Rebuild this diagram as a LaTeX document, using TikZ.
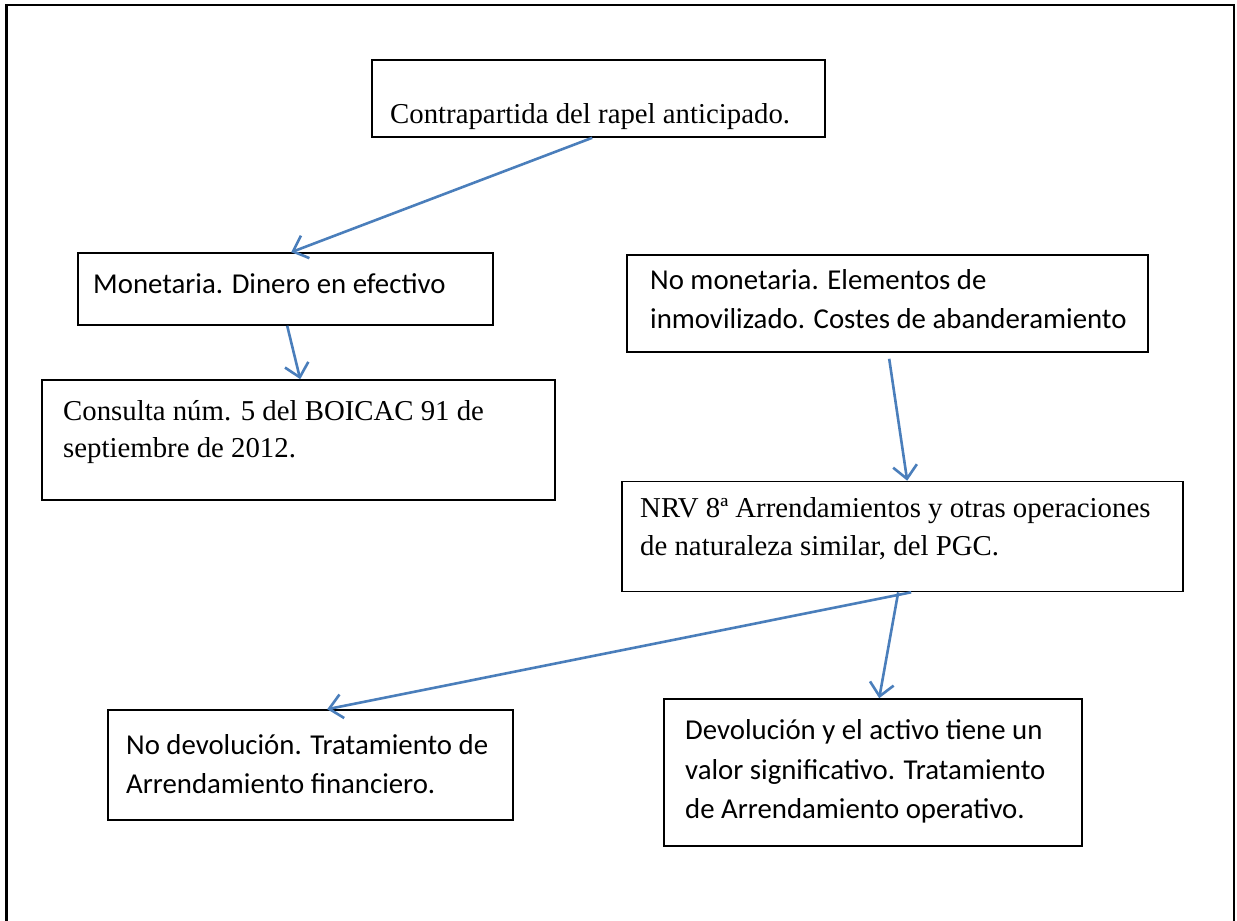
\documentclass[tikz,border=0pt]{standalone}
\usepackage{fontspec}
\setmainfont{Liberation Serif}
\newfontfamily\calfont{Carlito}
\usetikzlibrary{arrows.meta,calc}
\definecolor{arrblue}{RGB}{74,126,187}
\tikzset{
  box/.style={draw=black,line width=1.6pt,inner sep=0pt},
  tms/.style={anchor=base west,inner sep=0pt,font=\fontsize{28.8}{38}\selectfont},
  clb/.style={anchor=base west,inner sep=0pt,font=\calfont\fontsize{28.8}{38}\selectfont},
  conn/.style={draw=arrblue,line width=2.6pt,-{Straight Barb[length=13pt,width=24pt]}}
}
\begin{document}
\begin{tikzpicture}[x=1pt,y=-1pt]
\useasboundingbox (0,0) rectangle (1237,921);
\draw[line width=2.4pt] (6.5,940) -- (6.5,5) -- (1234,5) -- (1234,940);
% boxes
\node[box,minimum width=453pt,minimum height=77pt] (top) at (598.5,98.5) {};
\node[box,minimum width=415pt,minimum height=72pt] (mon) at (285.5,289) {};
\node[box,minimum width=513pt,minimum height=120pt] (cons) at (298.5,440) {};
\node[box,minimum width=521pt,minimum height=97pt] (nomon) at (887.5,303.5) {};
\node[box,minimum width=561pt,minimum height=110pt] (nrv) at (902.5,536.5) {};
\node[box,minimum width=405pt,minimum height=110pt] (nodev) at (310.5,765) {};
\node[box,minimum width=418pt,minimum height=147pt] (dev) at (873,772.5) {};
% texts
\node[tms] (t1) at (390,123) {Contrapartida del rapel anticipado.};
\node[clb] (t2) at (93,293) {Monetaria. Dinero en efectivo};
\node[tms] (t3a) at (63,420) {Consulta núm. 5 del BOICAC 91 de};
\node[tms] (t3b) at (63,457) {septiembre de 2012.};
\node[clb] (t4a) at (650,289) {No monetaria. Elementos de};
\node[clb] (t4b) at (650,328) {inmovilizado. Costes de abanderamiento};
\node[tms] (t5a) at (640,517) {NRV 8ª Arrendamientos y otras operaciones};
\node[tms] (t5b) at (640,555) {de naturaleza similar, del PGC.};
\node[clb] (t6a) at (126,754) { No devolución. Tratamiento de};
\node[clb] (t6b) at (126,793) {Arrendamiento financiero.};
\node[clb] (t7a) at (685,739) { Devolución y el activo tiene un};
\node[clb] (t7b) at (685,779) {valor significativo. Tratamiento};
\node[clb] (t7c) at (685,818) {de Arrendamiento operativo.};
% connector ends
\coordinate (a1s) at ([xshift=221pt]top.south west);
\coordinate (a1e) at ([xshift=214pt]mon.north west);
\coordinate (a2s) at ([xshift=210pt]mon.south west);
\coordinate (a2e) at ([xshift=259pt]cons.north west);
\coordinate (a3s) at ([xshift=263pt,yshift=-6pt]nomon.south west);
\coordinate (a3e) at ([xshift=286pt]nrv.north west);
\coordinate (a4s) at ([xshift=290pt]nrv.south west);
\coordinate (a4e) at ([xshift=220pt]nodev.north west);
\coordinate (a5s) at ([xshift=277pt]nrv.south west);
\coordinate (a5e) at ([xshift=216pt]dev.north west);
\draw[conn] (a1s) -- (a1e);
\draw[conn] (a2s) -- (a2e);
\draw[conn] (a3s) -- (a3e);
\draw[conn] (a4s) -- (a4e);
\draw[conn] (a5s) -- (a5e);
\end{tikzpicture}
\end{document}
